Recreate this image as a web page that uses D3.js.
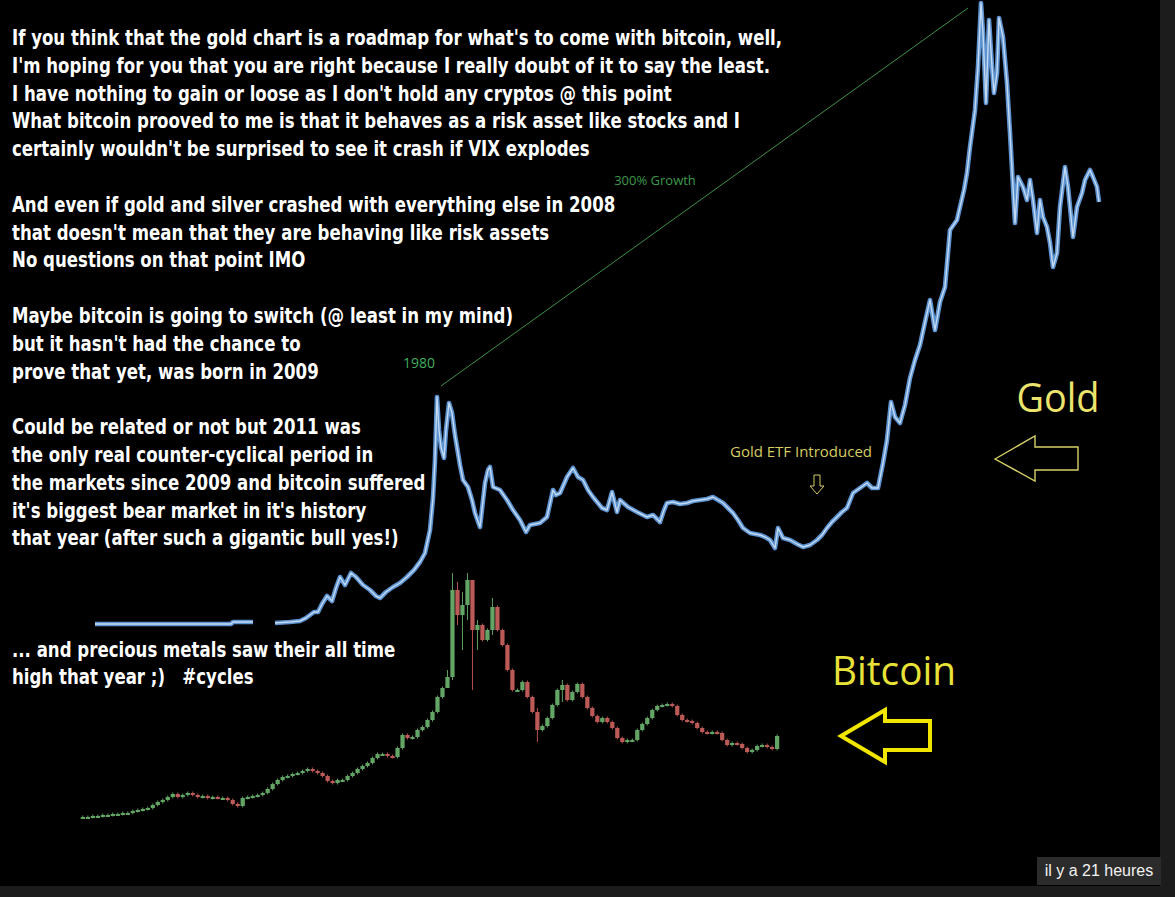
<!DOCTYPE html>
<html>
<head>
<meta charset="utf-8">
<script src="https://cdn.jsdelivr.net/npm/d3@7"></script>
<style>
  body { margin: 0; background: #1c1c1c; }
  svg { display: block; }
  text { white-space: pre; }
</style>
</head>
<body>
<svg width="1175" height="897"></svg>
<script>
// gold index, [t, value]; null = gap in the line
var goldPts = [
  [5,1],[141,1],[143,3],[163,3], null,
  [185,2],[200,3],[210,4],[216,7],[220,10],[224,13],[228,13],[232,21],[237,29],[242,24],[246,37],[250,48],
  [255,40],[261,52],[266,48],[273,40],[280,35],[286,29],[290,27],[296,33],[303,38],[310,42],[317,48],[324,55],
  [330,63],[335,72],[340,95],[343,127],[345,165],[347,228],[349,195],[351,178],[354,167],[356,195],[359,222],
  [362,212],[365,190],[367,178],[370,160],[373,145],[378,138],[382,125],[385,112],[390,98],[395,142],[398,155],
  [400,158],[403,138],[410,135],[417,125],[423,115],[430,105],[436,93],[440,100],[445,101],[450,102],[457,108],
  [463,135],[466,130],[470,132],[477,148],[483,157],[488,148],[493,145],[498,135],[503,128],[512,117],[517,115],
  [522,133],[527,113],[530,125],[538,118],[547,113],[557,108],[563,110],[570,103],[574,115],[577,122],[583,123],
  [590,121],[597,122],[603,124],[610,125],[617,126],[623,128],[628,125],[633,122],[638,117],[643,112],[648,105],
  [653,97],[660,92],[670,90],[675,88],[680,85],[685,77],[688,97],[693,87],[700,85],[707,81],[713,78],[720,80],
  [727,85],[732,90],[737,97],[742,103],[747,108],[752,113],[757,117],[763,132],[770,137],[777,142],[782,137],
  [788,137],[793,162],[797,185],[801,223],[805,208],[810,202],[815,220],[820,247],[825,265],[830,280],[835,303],
  [840,325],[845,295],[850,323],[855,338],[860,395],[867,405],[870,418],[874,435],[877,452],[880,478],[885,515],
  [888,558],[891,622],[893,592],[896,522],[899,605],[902,558],[904,532],[907,552],[909,607],[913,588],[917,542],
  [920,492],[923,438],[925,402],[928,448],[933,438],[937,425],[940,445],[943,425],[947,392],[950,425],[953,408],
  [957,398],[960,382],[963,358],[967,372],[970,418],[975,458],[978,438],[983,388],[987,418],[992,432],[995,445],
  [1000,455],[1003,448],[1007,438],[1009,423]
];

// bitcoin closes, one per candle
var btcClose = [
  3,3,4,4,5,5,6,6,7,7,9,10,11,12,15,18,20,23,26,23,
  25,27,25,23,24,22,23,22,22,20,16,14,22,23,24,25,27,31,36,40,
  43,44,46,47,49,51,49,47,44,39,37,40,40,44,47,51,54,57,62,66,
  66,64,63,72,85,82,83,90,93,100,108,123,132,143,230,205,215,240,190,195,
  180,190,213,190,175,150,130,130,138,123,108,90,94,102,115,130,135,120,128,136,
  123,112,104,98,102,98,92,82,78,80,80,90,96,102,110,114,115,116,114,105,
  100,99,97,92,88,87,88,87,80,75,77,76,72,68,70,74,75,73,71,84
];
// tall wicks: [candle, high, low]
var btcWicks = [[73,150,132],[74,247,140],[75,238,195],[76,228,170],[77,247,200],[78,235,130],[79,200,170],[82,222,185],[91,112,78],[96,140,118]];

var growthLine = [[351,239],[878,617]];

var textLines = [
  "If you think that the gold chart is a roadmap for what's to come with bitcoin, well,",
  "I'm hoping for you that you are right because I really doubt of it to say the least.",
  "I have nothing to gain or loose as I don't hold any cryptos @ this point",
  "What bitcoin prooved to me is that it behaves as a risk asset like stocks and I",
  "certainly wouldn't be surprised to see it crash if VIX explodes",
  "",
  "And even if gold and silver crashed with everything else in 2008",
  "that doesn't mean that they are behaving like risk assets",
  "No questions on that point IMO",
  "",
  "Maybe bitcoin is going to switch (@ least in my mind)",
  "but it hasn't had the chance to",
  "prove that yet, was born in 2009",
  "",
  "Could be related or not but 2011 was",
  "the only real counter-cyclical period in",
  "the markets since 2009 and bitcoin suffered",
  "it's biggest bear market in it's history",
  "that year (after such a gigantic bull yes!)",
  "", "", "",
  "... and precious metals saw their all time",
  "high that year ;)   #cycles"
];

var svg = d3.select("svg");

svg.append("rect").attr("width", 1160).attr("height", 886).attr("fill", "#000");

var x = d3.scaleLinear().domain([0, 1010]).range([90, 1100]);
var y = d3.scaleLinear().domain([0, 620]).range([625, 5]);

// growth annotation
svg.append("line")
  .attr("x1", x(growthLine[0][0])).attr("y1", y(growthLine[0][1]))
  .attr("x2", x(growthLine[1][0])).attr("y2", y(growthLine[1][1]))
  .attr("stroke", "#3f8f48").attr("stroke-width", 1);

svg.append("text").attr("x", x(329)).attr("y", y(262) + 5)
  .attr("text-anchor", "middle").attr("fill", "#3fae5e")
  .style("font", "14px 'Open Sans', sans-serif").text("1980");

svg.append("text").attr("x", x(565)).attr("y", y(445) + 5)
  .attr("text-anchor", "middle").attr("fill", "#3c9a4c")
  .style("font", "13px 'Open Sans', sans-serif").text("300% Growth");

// gold line
var line = d3.line()
  .defined(function(d) { return d !== null; })
  .x(function(d) { return x(d[0]); })
  .y(function(d) { return y(d[1]); });

svg.append("path").datum(goldPts).attr("d", line)
  .attr("fill", "none").attr("stroke", "#5d93d0").attr("stroke-width", 4.6)
  .attr("stroke-linejoin", "round");
svg.append("path").datum(goldPts).attr("d", line)
  .attr("fill", "none").attr("stroke", "#c4daf1").attr("stroke-width", 1.4)
  .attr("stroke-linejoin", "round");

// bitcoin candles
var bx = d3.scaleBand().domain(d3.range(btcClose.length)).range([80, 780]).padding(0.15);
var by = d3.scaleLinear().domain([0, 250]).range([820, 570]);

var candles = btcClose.map(function(c, i) {
  var o = i > 0 ? btcClose[i - 1] : c;
  var hi = Math.max(o, c) + 1.5, lo = Math.min(o, c) - 1.5;
  btcWicks.forEach(function(w) { if (w[0] === i) { hi = w[1]; lo = w[2]; } });
  return {i: i, o: o, c: c, hi: hi, lo: lo};
});

var cg = svg.append("g").attr("opacity", 0.85);
var cgrp = cg.selectAll("g").data(candles).enter().append("g");
cgrp.append("line")
  .attr("x1", function(d) { return bx(d.i) + bx.bandwidth() / 2; })
  .attr("x2", function(d) { return bx(d.i) + bx.bandwidth() / 2; })
  .attr("y1", function(d) { return by(d.hi); })
  .attr("y2", function(d) { return by(d.lo); })
  .attr("stroke", function(d) { return d.c >= d.o ? "#6fbf72" : "#d8605c"; })
  .attr("stroke-width", 1);
cgrp.append("rect")
  .attr("x", function(d) { return bx(d.i); })
  .attr("width", bx.bandwidth())
  .attr("y", function(d) { return by(Math.max(d.o, d.c)); })
  .attr("height", function(d) { return Math.max(2, Math.abs(by(d.o) - by(d.c))); })
  .attr("fill", function(d) { return d.c >= d.o ? "#74c277" : "#dc6a66"; });

// ETF annotation
svg.append("text").attr("x", x(711)).attr("y", y(173) + 5)
  .attr("text-anchor", "middle").attr("fill", "#d6cc62")
  .attr("textLength", 142).attr("lengthAdjust", "spacingAndGlyphs")
  .style("font", "14px 'Open Sans', sans-serif").text("Gold ETF Introduced");
var ax = x(727), ay = y(150);
svg.append("path")
  .attr("d", "M" + (ax - 3) + "," + ay + "h6v11h4l-7,8l-7,-8h4z")
  .attr("fill", "none").attr("stroke", "#d6cc62").attr("stroke-width", 1);

// Gold label + arrow
svg.append("text").attr("x", 1058).attr("y", 412)
  .attr("text-anchor", "middle").attr("fill", "#ece46c")
  .attr("textLength", 83).attr("lengthAdjust", "spacingAndGlyphs")
  .style("font", "41px 'Liberation Sans Narrow', 'Open Sans', sans-serif").text("Gold");
svg.append("path")
  .attr("d", "M995,459L1035,436V447H1078V470H1035V481Z")
  .attr("fill", "none").attr("stroke", "#d8d068").attr("stroke-width", 1.4);

// Bitcoin label + arrow
svg.append("text").attr("x", 894).attr("y", 685)
  .attr("text-anchor", "middle").attr("fill", "#e8e238")
  .attr("textLength", 124).attr("lengthAdjust", "spacingAndGlyphs")
  .style("font", "41px 'Liberation Sans Narrow', 'Open Sans', sans-serif").text("Bitcoin");
svg.append("path")
  .attr("d", "M841,736L885,710V721H930V750H885V762Z")
  .attr("fill", "none").attr("stroke", "#f0e600").attr("stroke-width", 4)
  .attr("stroke-linejoin", "miter");

// comment text
var tg = svg.append("g");
tg.selectAll("text").data(textLines).enter().append("text")
  .attr("x", 0)
  .attr("y", function(d, i) { return 45 + i * 27.8; })
  .attr("fill", "#fff")
  .style("font", "bold 21.5px 'Liberation Sans Narrow', 'DejaVu Sans Condensed', sans-serif")
  .text(function(d) { return d; });
var w0 = tg.select("text").node().getComputedTextLength();
tg.attr("transform", "translate(12,0) scale(" + (771 / w0) + ",1)");

// timestamp badge
svg.append("rect").attr("x", 1037).attr("y", 857).attr("width", 124).attr("height", 28).attr("fill", "#2b2b2b");
svg.append("text").attr("x", 1099).attr("y", 876).attr("text-anchor", "middle")
  .attr("fill", "#f2f2f2").style("font", "16px 'Liberation Sans', Arial, sans-serif")
  .text("il y a 21 heures");
</script>
</body>
</html>
